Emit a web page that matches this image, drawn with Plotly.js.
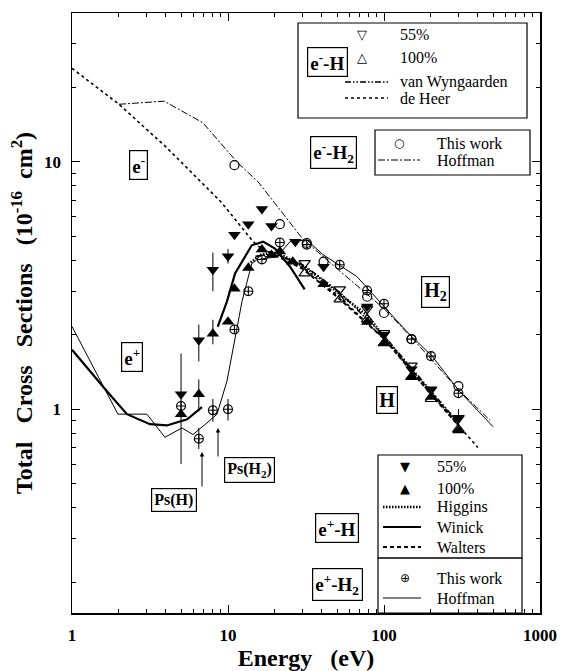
<!DOCTYPE html>
<html>
<head>
<meta charset="utf-8">
<script src="https://cdn.plot.ly/plotly-3.0.1.min.js"></script>
<style>html,body{margin:0;padding:0;background:#fff;}#chart{width:566px;height:671px;}</style>
</head>
<body>
<div id="chart"></div>
<script>
// ---------- data ----------
// e- + H, open triangles (55% and 100%)
const eH_E = [31, 52, 78, 100, 150, 200, 300];
const eH_55 = [3.9, 3.05, 2.55, 2.03, 1.5, 1.2, 0.92];
const eH_100 = [3.54, 2.78, 2.31, 1.85, 1.35, 1.1, 0.83];

// e- + H2, this work (open circles)
const eH2_E = [11, 21.5, 32, 41, 78, 100, 150, 300];
const eH2_sig = [9.7, 5.6, 4.7, 3.95, 2.85, 2.45, 1.92, 1.24];

// e+ + H, 55% (filled down triangles)
const epH55_E = [5, 6.5, 8, 10, 11, 13.5, 16.5, 19, 27, 41, 78, 100, 150, 200, 300];
const epH55 = [1.15, 1.9, 3.66, 4.15, 5.08, 5.6, 6.45, 5.5, 4.76, 3.77, 2.6, 2.0, 1.45, 1.2, 0.92];
const epH55_errUp = [0.53, 0.3, 0.64, 0.3, 0, 0, 0, 0, 0, 0, 0, 0, 0, 0, 0.08];
const epH55_errDn = [0.55, 0.34, 0.66, 0.27, 0, 0, 0, 0, 0, 0, 0, 0, 0, 0, 0.08];

// e+ + H, 100% (filled up triangles)
const epH100_E = [5, 6.5, 8, 10, 11, 13.5, 16.5, 19, 21.5, 26, 41, 78, 100, 150, 200, 300];
const epH100 = [0.955, 1.15, 2.02, 2.26, 3.07, 3.72, 4.42, 4.2, 4.34, 3.95, 3.2, 2.25, 1.85, 1.35, 1.12, 0.82];
const epH100_errUp = [0, 0.17, 0.28, 0, 0, 0, 0, 0, 0, 0, 0, 0, 0, 0, 0, 0];
const epH100_errDn = [0, 0.17, 0.19, 0, 0, 0, 0, 0, 0, 0, 0, 0, 0, 0, 0, 0];

// e+ + H2, this work (circle-plus)
const epH2_E = [5, 6.5, 8, 10, 11, 13.5, 16.5, 21.5, 32, 52, 78, 100, 150, 200, 300];
const epH2 = [1.03, 0.76, 0.99, 1.0, 2.1, 3.0, 4.03, 4.72, 4.63, 3.84, 3.02, 2.67, 1.92, 1.64, 1.16];
const epH2_errUp = [0, 0.08, 0.11, 0.1, 0, 0, 0, 0, 0, 0, 0, 0, 0, 0, 0];
const epH2_errDn = [0, 0.07, 0.1, 0.1, 0, 0, 0, 0, 0, 0, 0, 0, 0, 0, 0];

// theory / other curves
const deHeer_E = [1, 2, 4, 6, 9, 14.5, 17.3, 20, 30, 50, 100, 200, 300, 400];
const deHeer = [23.9, 17.1, 11.5, 8.9, 6.9, 4.76, 4.34, 4.3, 3.75, 2.9, 1.93, 1.18, 0.86, 0.70];

const vanW_E = [15, 20, 31, 52, 100, 200, 300];
const vanW = [4.15, 4.25, 3.8, 2.97, 1.98, 1.18, 0.88];

const hoffEm_E = [2, 3.9, 6.9, 11.4, 15.6, 30, 50, 100, 145, 200, 300, 480];
const hoffEm = [17.1, 17.6, 14.4, 10, 8.3, 4.9, 3.7, 2.55, 2.0, 1.6, 1.2, 0.9];

const higgins_E = [13.5, 16, 19, 23, 31, 41, 52, 78, 100, 150, 200, 300];
const higgins = [3.85, 4.2, 4.3, 4.15, 3.75, 3.3, 2.92, 2.4, 1.97, 1.43, 1.16, 0.87];

const winick_E = [1, 1.36, 1.68, 2.25, 3.16, 4.06, 5.47, 6.81, null, 8.6, 9.85, 11.1, 14.2, 16.8, 20, 25, 31];
const winick = [1.74, 1.38, 1.18, 0.955, 0.87, 0.86, 0.91, 1.02, null, 2.16, 2.73, 3.54, 4.6, 4.76, 4.46, 3.77, 3.05];

const walters_E = [20, 30, 50, 100, 200, 300];
const walters = [4.2, 3.7, 2.85, 1.93, 1.15, 0.86];

const hoffEp_E = [1, 1.97, 3.02, 3.94, 5.07, 5.96, 7.33, 8.5, 9.85, 10.7, 12.3, 14.2, 15.3, 20.6, 25, 32, 40.6, 67, 94, 140, 203, 253, 305, 500];
const hoffEp = [2.16, 0.955, 0.955, 0.77, 0.84, 0.79, 0.88, 0.955, 1.3, 1.71, 2.73, 3.88, 4.02, 4.14, 4.76, 4.84, 4.22, 3.44, 2.73, 2.06, 1.64, 1.38, 1.18, 0.85];

const xTickVals = [1, 10, 100, 1000];
const xTickText = ['1', '10', '100', '1000'];
const yTickVals = [1, 10];
const yTickText = ['1', '10'];

// ---------- styles ----------
const K = 'black';
const SERIF = 'Liberation Serif, Times New Roman, serif';
const SYM = 'DejaVu Sans, sans-serif';
const ST = {
  vanW: {color: K, width: 1.6, dash: '6px,2px,1.5px,2px,1.5px,2px'},
  deHeer: {color: K, width: 1.6, dash: '3px,3px'},
  hoffEm: {color: K, width: 1, dash: '7px,2px,2px,2px'},
  higgins: {color: K, width: 2.5, dash: '1.5px,1.5px'},
  winick: {color: K, width: 2.2},
  walters: {color: K, width: 2, dash: '4px,3px'},
  hoffEp: {color: K, width: 1}
};

// ---------- layout helpers ----------
const L = 72, R = 540, T = 13, B = 613;
const px = v => (v - L) / (R - L);
const py = v => (B - v) / (B - T);

const minorX = [];
[1, 10, 100].forEach(d => { for (let k = 2; k <= 9; k++) minorX.push(k * d); });
const minorY = [0.2, 0.3, 0.4, 0.5, 0.6, 0.7, 0.8, 0.9, 2, 3, 4, 5, 6, 7, 8, 9, 20, 30];

const errStyle = (up, dn) => ({type: 'data', symmetric: false, array: up, arrayminus: dn, width: 0, thickness: 1, color: K});

const traces = [
  {x: vanW_E, y: vanW, mode: 'lines', name: 'van Wyngaarden', line: ST.vanW},
  {x: deHeer_E, y: deHeer, mode: 'lines', name: 'de Heer', line: ST.deHeer},
  {x: hoffEm_E, y: hoffEm, mode: 'lines', name: 'Hoffman (e- H2)', line: ST.hoffEm},
  {x: higgins_E, y: higgins, mode: 'lines', name: 'Higgins', line: ST.higgins},
  {x: winick_E, y: winick, mode: 'lines', name: 'Winick', connectgaps: false, line: ST.winick},
  {x: walters_E, y: walters, mode: 'lines', name: 'Walters', line: ST.walters},
  {x: hoffEp_E, y: hoffEp, mode: 'lines', name: 'Hoffman (e+ H2)', line: ST.hoffEp},
  {x: eH_E, y: eH_55, mode: 'markers', name: 'e- H 55%',
   marker: {symbol: 'triangle-down-open', size: 10, color: K, line: {width: 1.2, color: K}}},
  {x: eH_E, y: eH_100, mode: 'markers', name: 'e- H 100%',
   marker: {symbol: 'triangle-up-open', size: 10, color: K, line: {width: 1.2, color: K}}},
  {x: eH2_E, y: eH2_sig, mode: 'markers', name: 'e- H2 This work',
   marker: {symbol: 'circle-open', size: 9, color: K, line: {width: 1.2, color: K}}},
  {x: epH55_E, y: epH55, mode: 'markers', name: 'e+ H 55%',
   marker: {symbol: 'triangle-down', size: 11, color: K}, error_y: errStyle(epH55_errUp, epH55_errDn)},
  {x: epH100_E, y: epH100, mode: 'markers', name: 'e+ H 100%',
   marker: {symbol: 'triangle-up', size: 11, color: K}, error_y: errStyle(epH100_errUp, epH100_errDn)},
  {x: epH2_E, y: epH2, mode: 'markers', name: 'e+ H2 This work',
   marker: {symbol: 'circle-cross-open', size: 9, color: K, line: {width: 1.1, color: K}},
   error_y: errStyle(epH2_errUp, epH2_errDn)}
];

// ---------- hand-drawn legends ----------
const shapes = [];
const annotations = [];
function box(x0, y0, x1, y1) {
  shapes.push({type: 'rect', xref: 'paper', yref: 'paper', x0: px(x0), x1: px(x1), y0: py(y1), y1: py(y0),
               line: {color: K, width: 1.2}, fillcolor: 'rgba(0,0,0,0)'});
}
function legText(text, x, y) {
  annotations.push({xref: 'paper', yref: 'paper', x: px(x), y: py(y), text: text, showarrow: false,
                    xanchor: 'left', yanchor: 'middle', font: {family: SERIF, size: 16, color: K}});
}
function legSym(ch, x, y, size) {
  annotations.push({xref: 'paper', yref: 'paper', x: px(x), y: py(y), text: ch, showarrow: false,
                    xanchor: 'center', yanchor: 'middle', font: {family: SYM, size: size, color: K}});
}
function legLine(st, x0, x1, y) {
  shapes.push({type: 'line', xref: 'paper', yref: 'paper', x0: px(x0), x1: px(x1), y0: py(y), y1: py(y),
               line: {color: st.color, width: st.width, dash: st.dash || 'solid'}});
}
function lab(text, cx, cy, size) {
  annotations.push({xref: 'paper', yref: 'paper', x: px(cx), y: py(cy), text: text, showarrow: false,
                    xanchor: 'center', yanchor: 'middle',
                    font: {family: SERIF, size: size, color: K, weight: 'bold'},
                    bordercolor: K, borderwidth: 1.2, borderpad: 2, bgcolor: 'white'});
}
function arrow(x, yTip, yTail) {
  annotations.push({xref: 'paper', yref: 'paper', x: px(x), y: py(yTip), ax: 0, ay: yTail - yTip,
                    text: '', showarrow: true, arrowhead: 2, arrowsize: 0.9, arrowwidth: 1, arrowcolor: K});
}

// e- H legend (the e--H label sits inside this frame)
box(298, 23, 527, 118);
legSym('\u25BD', 362, 35, 13); legText('55%', 398, 35);
legSym('\u25B3', 362, 58, 13); legText('100%', 398, 58);
legLine(ST.vanW, 345, 388, 82); legText('van Wyngaarden', 398, 82);
legLine(ST.deHeer, 345, 388, 98); legText('de Heer', 398, 98);
// e- H2 legend
box(375, 130, 530, 175);
legSym('\u25CB', 399, 143, 12); legText('This work', 435, 143);
legLine(ST.hoffEm, 378, 420, 160); legText('Hoffman', 435, 160);
// e+ H legend
box(378, 455, 522, 558);
legSym('\u25BC', 405, 467, 13); legText('55%', 435, 467);
legSym('\u25B2', 405, 488, 13); legText('100%', 435, 488);
legLine(ST.higgins, 383, 421, 507); legText('Higgins', 435, 507);
legLine(ST.winick, 383, 421, 527); legText('Winick', 435, 527);
legLine(ST.walters, 383, 421, 547); legText('Walters', 435, 547);
// e+ H2 legend
box(378, 558, 522, 613);
legSym('\u2295', 405, 578, 12); legText('This work', 435, 578);
legLine(ST.hoffEp, 383, 421, 598); legText('Hoffman', 435, 598);

// boxed labels and arrows
lab('e<sup>-</sup>-H', 327, 62, 19);
lab('e<sup>-</sup>-H<sub>2</sub>', 333, 152, 19);
lab('e<sup>-</sup>', 138, 165, 19);
lab('e<sup>+</sup>', 132, 357, 19);
lab('H<sub>2</sub>', 435, 292, 20);
lab('H', 387, 400, 20);
lab('Ps(H)', 174, 500, 16);
lab('Ps(H<sub>2</sub>)', 249, 470, 16);
lab('e<sup>+</sup>-H', 337, 528, 19);
lab('e<sup>+</sup>-H<sub>2</sub>', 337, 584, 19);
arrow(202, 452, 488);
arrow(218, 428, 458);

const layout = {
  width: 566, height: 671,
  margin: {l: L, r: 566 - R, t: T, b: 671 - B},
  paper_bgcolor: 'white', plot_bgcolor: 'white',
  showlegend: false,
  hovermode: false,
  font: {family: SERIF, color: K},
  xaxis: {
    type: 'log', range: [0, 3], tickvals: xTickVals, ticktext: xTickText,
    ticks: 'inside', ticklen: 8, tickwidth: 1, tickcolor: K,
    showline: true, linecolor: K, linewidth: 1.5, mirror: 'ticks', showgrid: false, zeroline: false,
    minor: {tickvals: minorX, ticks: 'inside', ticklen: 4, tickwidth: 1, tickcolor: K, showgrid: false},
    tickfont: {family: SERIF, size: 17, color: K, weight: 'bold'}, ticklabelstandoff: 6,
    title: {text: 'Energy\u00a0\u00a0\u00a0(eV)', font: {family: SERIF, size: 24, color: K, weight: 'bold'}, standoff: 6}
  },
  yaxis: {
    type: 'log', range: [Math.log10(0.15), Math.log10(40)], tickvals: yTickVals, ticktext: yTickText,
    ticks: 'inside', ticklen: 8, tickwidth: 1, tickcolor: K,
    showline: true, linecolor: K, linewidth: 1.5, mirror: 'ticks', showgrid: false, zeroline: false,
    minor: {tickvals: minorY, ticks: 'inside', ticklen: 4, tickwidth: 1, tickcolor: K, showgrid: false},
    tickfont: {family: SERIF, size: 17, color: K, weight: 'bold'}, ticklabelstandoff: 6,
    title: {text: 'Total\u00a0\u00a0\u00a0Cross\u00a0\u00a0\u00a0Sections\u00a0\u00a0\u00a0(10<sup>-16</sup>\u00a0\u00a0cm<sup>2</sup>)', font: {family: SERIF, size: 24, color: K, weight: 'bold'}, standoff: 4}
  },
  shapes: shapes,
  annotations: annotations
};

Plotly.newPlot('chart', traces, layout, {displayModeBar: false, staticPlot: true});
</script>
</body>
</html>
